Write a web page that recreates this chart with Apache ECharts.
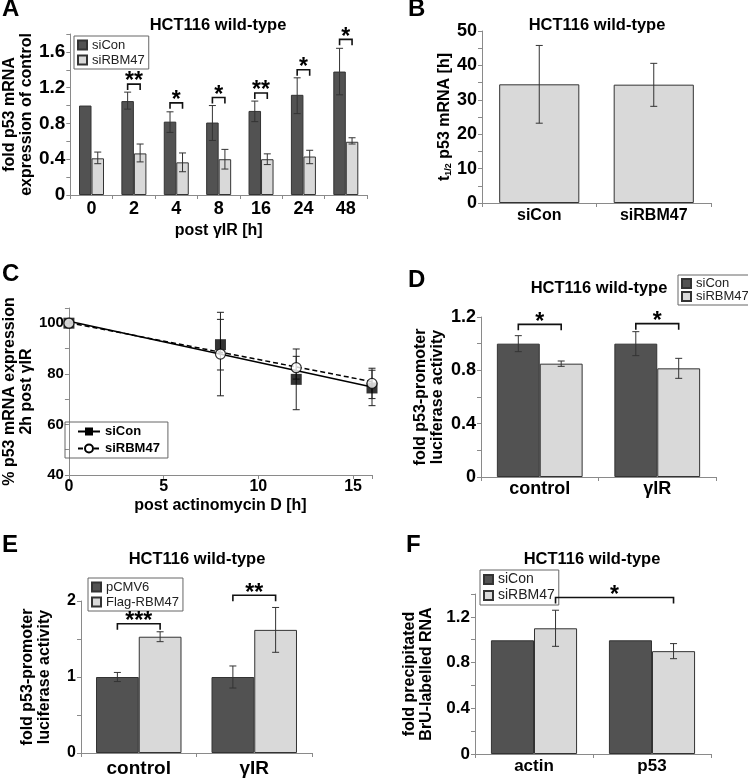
<!DOCTYPE html>
<html><head><meta charset="utf-8">
<script src="https://cdn.jsdelivr.net/npm/echarts@6/dist/echarts.min.js"></script>
<style>html,body{margin:0;padding:0;background:#fff}#c{width:748px;height:778px}</style>
</head><body><div id="c"></div><script>
const FF = '"Liberation Sans", Arial, Helvetica, sans-serif';
const DARK = '#525252', LIGHT = '#d9d9d9', EDGE = '#333333', AXC = '#8a8a8a', ERR = '#333333';

// ---------- Panel A ----------
const aCats = ['0','2','4','8','16','24','48'];
const aSiCon   = [1.00, 1.05, 0.82, 0.81, 0.94, 1.12, 1.38];
const aSiConLo = [null, 0.96, 0.70, 0.61, 0.82, 0.91, 1.12];
const aSiConHi = [null, 1.15, 0.93, 1.00, 1.05, 1.31, 1.64];
const aSiRBM   = [0.41, 0.465, 0.365, 0.40, 0.40, 0.43, 0.595];
const aSiRBMLo = [0.35, 0.37, 0.26, 0.29, 0.34, 0.35, 0.57];
const aSiRBMHi = [0.48, 0.57, 0.47, 0.51, 0.46, 0.50, 0.64];
const aSigText = ['', '**', '*', '*', '**', '*', '*'];
const aSigY    = [null, 1.24, 1.03, 1.09, 1.14, 1.40, 1.74];

// ---------- Panel B ----------
const bCats = ['siCon', 'siRBM47'];
const bHalfLife = [34.5, 34.4];
const bLo = [23.2, 28.1];
const bHi = [45.8, 40.6];

// ---------- Panel C ----------
const cTime = [0, 8, 12, 16];
const cSiCon = [100, 91.5, 77.8, 74.4];
const cSiConErr = [0, 10, 12, 7];
const cSiRBM = [100, 87.8, 82.4, 76.2];
const cSiRBMErr = [0, 16.5, 4.5, 6];
const cFitX = [0, 16];
const cFitSiCon = [100.8, 74.8];
const cFitSiRBM = [100.2, 76.9];

// ---------- Panel D ----------
const dCats = ['control', 'γIR'];
const dSiCon = [1.0, 1.0];
const dSiConErr = [0.06, 0.09];
const dSiRBM = [0.85, 0.815];
const dSiRBMErr = [0.02, 0.075];
const dSigText = ['*', '*'];
const dSigY = [1.145, 1.15];

// ---------- Panel E ----------
const eCats = ['control', 'γIR'];
const ePCMV = [1.0, 1.0];
const ePCMVErr = [0.06, 0.145];
const eFlag = [1.53, 1.62];
const eFlagErr = [0.065, 0.295];
const eSigText = ['***', '**'];
const eSigY = [1.70, 2.075];

// ---------- Panel F ----------
const fCats = ['actin', 'p53'];
const fSiCon = [0.995, 0.995];
const fSiRBM = [1.10, 0.90];
const fSiRBMErr = [0.158, 0.066];
const fSigText = ['*'];
const fSigY = [1.37];

// ---------- helpers ----------
function fmtStep(step) {
  return v => { const r = v / step; return Math.abs(r - Math.round(r)) < 1e-6 ? String(+v.toFixed(2)) : ''; };
}
const nameStyle = {fontSize: 16, fontWeight: 'bold', fontFamily: FF, color: '#000', lineHeight: 17};
function catX(gi, cats, fs, margin, name, nameGap) {
  return {type: 'category', gridIndex: gi, data: cats,
    axisLine: {show: true, onZero: false, lineStyle: {color: AXC}},
    axisTick: {show: true, length: 4, lineStyle: {color: AXC}},
    axisLabel: {fontSize: fs, fontWeight: 'bold', fontFamily: FF, color: '#000', margin: margin},
    splitLine: {show: false},
    name: name || '', nameLocation: 'middle', nameGap: nameGap || 0, nameTextStyle: nameStyle};
}
function valY(gi, min, max, interval, step, fs, name, nameGap, nStyle) {
  return {type: 'value', gridIndex: gi, min: min, max: max, interval: interval,
    axisLine: {show: true, onZero: false, lineStyle: {color: AXC}},
    axisTick: {show: true, length: 4, lineStyle: {color: AXC}},
    axisLabel: {fontSize: fs, fontWeight: 'bold', fontFamily: FF, color: '#000', margin: 5, formatter: fmtStep(step)},
    splitLine: {show: false},
    name: name, nameLocation: 'middle', nameRotate: 90, nameGap: nameGap, nameTextStyle: nStyle || nameStyle};
}
function barS(name, gi, data, color, gap) {
  return {type: 'bar', name: name, xAxisIndex: gi, yAxisIndex: gi, data: data, barGap: '0%', barCategoryGap: gap,
    itemStyle: {color: color, borderColor: EDGE, borderWidth: 1}, silent: true};
}
// rows: [cat, lo, hi, slot]
function errCat(gi, rows, gapFrac, nBars) {
  return {type: 'custom', xAxisIndex: gi, yAxisIndex: gi, z: 4, silent: true, data: rows,
    encode: {x: 0, y: [1, 2]},
    renderItem: function (params, api) {
      const cat = api.value(0), lo = api.value(1), hi = api.value(2), slot = api.value(3);
      const band = api.size([1, 0])[0];
      const w = band * (1 - gapFrac) / nBars;
      const p = api.coord([cat, lo]);
      const cx = p[0] + (slot - (nBars - 1) / 2) * w;
      const yl = p[1], yh = api.coord([cat, hi])[1];
      const cap = 3.5, st = {stroke: ERR, lineWidth: 1};
      return {type: 'group', children: [
        {type: 'line', shape: {x1: cx, y1: yl, x2: cx, y2: yh}, style: st},
        {type: 'line', shape: {x1: cx - cap, y1: yl, x2: cx + cap, y2: yl}, style: st},
        {type: 'line', shape: {x1: cx - cap, y1: yh, x2: cx + cap, y2: yh}, style: st}
      ]};
    }};
}
// rows: [catA, slotA, catB, slotB, y], labels array
function bracket(gi, rows, labels, gapFrac, nBars) {
  return {type: 'custom', xAxisIndex: gi, yAxisIndex: gi, z: 5, silent: true, data: rows,
    encode: {x: 0, y: 4},
    renderItem: function (params, api) {
      const band = api.size([1, 0])[0];
      const w = band * (1 - gapFrac) / nBars;
      const yv = api.value(4);
      const pa = api.coord([api.value(0), yv]);
      const pb = api.coord([api.value(2), yv]);
      const x1 = pa[0] + (api.value(1) - (nBars - 1) / 2) * w;
      const x2 = pb[0] + (api.value(3) - (nBars - 1) / 2) * w;
      const y = pa[1];
      const txt = labels[params.dataIndex];
      return {type: 'group', children: [
        {type: 'polyline', shape: {points: [[x1, y + 6], [x1, y], [x2, y], [x2, y + 6]]},
          style: {stroke: '#111', lineWidth: 1.6, fill: null}},
        {type: 'text', x: (x1 + x2) / 2, y: y - 2,
          style: {text: txt, font: 'bold 23px ' + FF, textAlign: 'center', textVerticalAlign: 'middle',
            align: 'center', verticalAlign: 'middle', fill: '#000'}}
      ]};
    }};
}

// ---------- build rows ----------
const aErrRows = [];
aCats.forEach((c, i) => {
  if (aSiConLo[i] != null) aErrRows.push([i, aSiConLo[i], aSiConHi[i], 0]);
  aErrRows.push([i, aSiRBMLo[i], aSiRBMHi[i], 1]);
});
const aBrRows = [], aBrLabels = [];
aCats.forEach((c, i) => { if (aSigY[i] != null) { aBrRows.push([i, 0, i, 1, aSigY[i]]); aBrLabels.push(aSigText[i]); } });

const bErrRows = bCats.map((c, i) => [i, bLo[i], bHi[i], 0]);

const cErrRowsCon = [], cErrRowsRBM = [];
cTime.forEach((t, i) => {
  if (cSiConErr[i] > 0) cErrRowsCon.push([t, cSiCon[i] - cSiConErr[i], cSiCon[i] + cSiConErr[i]]);
  if (cSiRBMErr[i] > 0) cErrRowsRBM.push([t, cSiRBM[i] - cSiRBMErr[i], cSiRBM[i] + cSiRBMErr[i]]);
});
function errVal(gi, rows) {
  return {type: 'custom', xAxisIndex: gi, yAxisIndex: gi, z: 3, silent: true, data: rows, encode: {x: 0, y: [1, 2]},
    renderItem: function (params, api) {
      const pl = api.coord([api.value(0), api.value(1)]);
      const ph = api.coord([api.value(0), api.value(2)]);
      const cap = 3.5, st = {stroke: '#222', lineWidth: 1};
      return {type: 'group', children: [
        {type: 'line', shape: {x1: pl[0], y1: pl[1], x2: ph[0], y2: ph[1]}, style: st},
        {type: 'line', shape: {x1: pl[0] - cap, y1: pl[1], x2: pl[0] + cap, y2: pl[1]}, style: st},
        {type: 'line', shape: {x1: ph[0] - cap, y1: ph[1], x2: ph[0] + cap, y2: ph[1]}, style: st}
      ]};
    }};
}

const dErrRows = [], eErrRows = [], fErrRows = [];
dCats.forEach((c, i) => { dErrRows.push([i, dSiCon[i] - dSiConErr[i], dSiCon[i] + dSiConErr[i], 0]); dErrRows.push([i, dSiRBM[i] - dSiRBMErr[i], dSiRBM[i] + dSiRBMErr[i], 1]); });
eCats.forEach((c, i) => { eErrRows.push([i, ePCMV[i] - ePCMVErr[i], ePCMV[i] + ePCMVErr[i], 0]); eErrRows.push([i, eFlag[i] - eFlagErr[i], eFlag[i] + eFlagErr[i], 1]); });
fCats.forEach((c, i) => { fErrRows.push([i, fSiRBM[i] - fSiRBMErr[i], fSiRBM[i] + fSiRBMErr[i], 1]); });
const dBrRows = dCats.map((c, i) => [i, 0, i, 1, dSigY[i]]);
const eBrRows = eCats.map((c, i) => [i, 0, i, 1, eSigY[i]]);
const fBrRows = [[0, 1, 1, 1, fSigY[0]]];

// ---------- text ----------
function letter(t, x, y) { return {text: t, left: x, top: y, padding: 0, textStyle: {fontSize: 24, fontWeight: 'bold', fontFamily: FF, color: '#000'}}; }
function heading(x, y) { return {text: 'HCT116 wild-type', left: x, top: y, textAlign: 'center', padding: 0, textStyle: {fontSize: 16.5, fontWeight: 'bold', fontFamily: FF, color: '#000'}}; }
function legendBox(names, x, y, fs, extra) {
  return Object.assign({data: names, orient: 'vertical', left: x, top: y, selectedMode: false,
    borderColor: '#666', borderWidth: 1, borderRadius: 0, padding: [2, 4, 2, 3], itemGap: 1,
    itemWidth: 9, itemHeight: 9, icon: 'rect',
    textStyle: {fontSize: fs, fontFamily: FF, color: '#222', lineHeight: fs + 1}}, extra || {});
}

const chart = echarts.init(document.getElementById('c'), null, {renderer: 'canvas'});
chart.setOption({
  animation: false,
  backgroundColor: '#fff',
  title: [
    letter('A', 2, -3), letter('B', 408, -3), letter('C', 2, 262), letter('D', 408, 268), letter('E', 2, 533), letter('F', 406, 533),
    heading(218, 17), heading(597, 17), heading(599, 280), heading(197, 551), heading(592, 551)
  ],
  legend: [
    legendBox(['siCon', 'siRBM47'], 74, 36, 13),
    legendBox(['siCon fit', 'siRBM47 fit'], 65, 422, 13, {icon: null, itemWidth: 22, itemHeight: 10, itemGap: 4,
      padding: [3, 8, 3, 12], formatter: n => n.replace(' fit', ''),
      textStyle: {fontSize: 13, fontWeight: 'bold', fontFamily: FF, color: '#000'}}),
    legendBox(['siCon', 'siRBM47'], 678, 275, 13, {itemGap: 0, textStyle: {fontSize: 13, fontFamily: FF, color: '#222', lineHeight: 12}}),
    legendBox(['pCMV6', 'Flag-RBM47'], 88, 578, 13, {itemGap: 1}),
    legendBox(['siCon', 'siRBM47'], 480, 570, 14, {itemGap: 1})
  ],
  grid: [
    {left: 67, top: 34, width: 300, height: 161},
    {left: 482, top: 31, width: 229, height: 172},
    {left: 62, top: 308, width: 310, height: 167},
    {left: 481, top: 317, width: 235, height: 160},
    {left: 81, top: 601, width: 231, height: 153},
    {left: 475, top: 594, width: 236, height: 160}
  ],
  xAxis: [
    catX(0, aCats, 18, 5, 'post γIR [h]', 27),
    catX(1, bCats, 16, 5),
    {type: 'value', gridIndex: 2, min: 0, max: 16, interval: 5,
      axisLine: {show: true, onZero: false, lineStyle: {color: AXC}},
      axisTick: {show: true, length: 4, lineStyle: {color: AXC}},
      axisLabel: {fontSize: 16, fontWeight: 'bold', fontFamily: FF, color: '#000', margin: 4, formatter: fmtStep(5)},
      splitLine: {show: false},
      name: 'post actinomycin D [h]', nameLocation: 'middle', nameGap: 22, nameTextStyle: nameStyle},
    catX(3, dCats, 18, 3),
    catX(4, eCats, 19, 6),
    catX(5, fCats, 17, 4)
  ],
  yAxis: [
    valY(0, 0, 1.8, 0.2, 0.4, 19, 'fold p53 mRNA\nexpression of control', 33),
    valY(1, 0, 50, 5, 10, 18, '{t|t}{s|1/2}{t| p53 mRNA [h]}', 28,
      {rich: {t: {fontSize: 16, fontWeight: 'bold', fontFamily: FF, color: '#000', lineHeight: 17},
              s: {fontSize: 9, fontWeight: 'bold', fontFamily: FF, color: '#000', verticalAlign: 'bottom', lineHeight: 17}}}),
    valY(2, 40, 106, 10, 20, 15, '% p53 mRNA expression\n2h post γIR', 29),
    valY(3, 0, 1.2, 0.2, 0.4, 18, 'fold p53-promoter\nluciferase activity', 35),
    valY(4, 0, 2, 0.5, 1, 16, 'fold p53-promoter\nluciferase activity', 28),
    valY(5, 0, 1.4, 0.2, 0.4, 17, 'fold precipitated\nBrU-labelled RNA', 40)
  ],
  series: [
    // A
    barS('siCon', 0, aSiCon, DARK, '41%'),
    barS('siRBM47', 0, aSiRBM, LIGHT, '41%'),
    errCat(0, aErrRows, 0.41, 2),
    bracket(0, aBrRows, aBrLabels, 0.41, 2),
    // B
    barS('t1/2', 1, bHalfLife, LIGHT, '30%'),
    errCat(1, bErrRows, 0.30, 1),
    // C
    {type: 'line', name: 'siCon fit', xAxisIndex: 2, yAxisIndex: 2, data: cFitX.map((x, i) => [x, cFitSiCon[i]]),
      showSymbol: false, symbol: 'rect', symbolSize: 10, itemStyle: {color: '#000'}, lineStyle: {color: '#000', width: 1.5}, silent: true, z: 2},
    {type: 'line', name: 'siRBM47 fit', xAxisIndex: 2, yAxisIndex: 2, data: cFitX.map((x, i) => [x, cFitSiRBM[i]]),
      showSymbol: false, symbol: 'emptyCircle', symbolSize: 10, itemStyle: {color: '#000'}, lineStyle: {color: '#000', width: 1.5, type: [5, 3]}, silent: true, z: 2},
    errVal(2, cErrRowsCon),
    errVal(2, cErrRowsRBM),
    {type: 'scatter', name: 'siCon pts', xAxisIndex: 2, yAxisIndex: 2, data: cTime.map((t, i) => [t, cSiCon[i]]),
      symbol: 'rect', symbolSize: 11, itemStyle: {color: '#000'}, silent: true, z: 5},
    {type: 'scatter', name: 'siRBM47 pts', xAxisIndex: 2, yAxisIndex: 2, data: cTime.map((t, i) => [t, cSiRBM[i]]),
      symbol: 'circle', symbolSize: 10, itemStyle: {color: '#fff', borderColor: '#000', borderWidth: 1.2}, silent: true, z: 6},
    // D
    barS('siCon', 3, dSiCon, DARK, '27%'),
    barS('siRBM47', 3, dSiRBM, LIGHT, '27%'),
    errCat(3, dErrRows, 0.27, 2),
    bracket(3, dBrRows, dSigText, 0.27, 2),
    // E
    barS('pCMV6', 4, ePCMV, DARK, '26%'),
    barS('Flag-RBM47', 4, eFlag, LIGHT, '26%'),
    errCat(4, eErrRows, 0.26, 2),
    bracket(4, eBrRows, eSigText, 0.26, 2),
    // F
    barS('siCon', 5, fSiCon, DARK, '27%'),
    barS('siRBM47', 5, fSiRBM, LIGHT, '27%'),
    errCat(5, fErrRows, 0.27, 2),
    bracket(5, fBrRows, fSigText, 0.27, 2)
  ]
});
</script></body></html>
